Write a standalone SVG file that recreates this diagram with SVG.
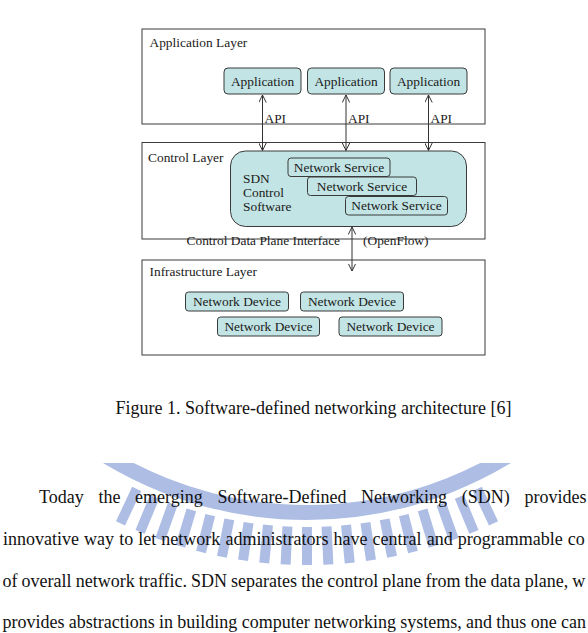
<svg xmlns="http://www.w3.org/2000/svg" width="588" height="633" viewBox="0 0 588 633">
<style>
.layer{fill:#fff;stroke:#3a3a3a;stroke-width:1}
.node{fill:#c2e4e4;stroke:#3a3a3a;stroke-width:1}
.t{font-family:"Liberation Serif","Times New Roman",serif;font-size:13.4px;fill:#1a1a1a}
.c{text-anchor:middle}
.body{font-family:"Liberation Serif","Times New Roman",serif;font-size:18px;fill:#111}
.conn{stroke:#333;stroke-width:1;fill:none;marker-start:url(#ah);marker-end:url(#ah)}
.wm{fill:#adbde4}
</style>
<defs>
<marker id="ah" viewBox="0 0 8 8" refX="7.5" refY="4" markerWidth="8" markerHeight="8" markerUnits="userSpaceOnUse" orient="auto-start-reverse">
<path d="M0,0.3 L7.5,4 L0,7.7" fill="none" stroke="#333" stroke-width="1"/>
</marker>
<clipPath id="wmclip"><rect x="0" y="463" width="588" height="170"/></clipPath>
<rect id="tooth" x="302" y="527" width="10" height="38"/>
</defs>
<rect width="588" height="633" fill="#fff"/>

<g id="watermark" clip-path="url(#wmclip)" class="wm">
<circle cx="307" cy="127" r="385.5" fill="none" stroke="#adbde4" stroke-width="15"/>
<use href="#tooth" transform="rotate(-25.2 307 127)"/>
<use href="#tooth" transform="rotate(-22.4 307 127)"/>
<use href="#tooth" transform="rotate(-19.6 307 127)"/>
<use href="#tooth" transform="rotate(-16.8 307 127)"/>
<use href="#tooth" transform="rotate(-14 307 127)"/>
<use href="#tooth" transform="rotate(-11.2 307 127)"/>
<use href="#tooth" transform="rotate(-8.4 307 127)"/>
<use href="#tooth" transform="rotate(-5.6 307 127)"/>
<use href="#tooth" transform="rotate(-2.8 307 127)"/>
<use href="#tooth"/>
<use href="#tooth" transform="rotate(2.8 307 127)"/>
<use href="#tooth" transform="rotate(5.6 307 127)"/>
<use href="#tooth" transform="rotate(8.4 307 127)"/>
<use href="#tooth" transform="rotate(11.2 307 127)"/>
<use href="#tooth" transform="rotate(14 307 127)"/>
<use href="#tooth" transform="rotate(16.8 307 127)"/>
<use href="#tooth" transform="rotate(19.6 307 127)"/>
<use href="#tooth" transform="rotate(22.4 307 127)"/>
<use href="#tooth" transform="rotate(25.2 307 127)"/>
</g>

<g id="application-layer">
<rect class="layer" x="142" y="29" width="343" height="95"/>
<text class="t" x="149.5" y="46.5">Application Layer</text>
</g>
<g id="control-layer">
<rect class="layer" x="142" y="142.5" width="343" height="96.5"/>
<text class="t" x="148" y="161.5">Control Layer</text>
</g>
<g id="infrastructure-layer">
<rect class="layer" x="142" y="260" width="343" height="95"/>
<text class="t" x="149.5" y="276">Infrastructure Layer</text>
</g>

<g id="app1"><rect class="node" x="224" y="68" width="77" height="26" rx="4"/><text class="t c" x="262.5" y="86">Application</text></g>
<g id="app2"><rect class="node" x="307.5" y="68" width="77" height="26" rx="4"/><text class="t c" x="346" y="86">Application</text></g>
<g id="app3"><rect class="node" x="390" y="68" width="77" height="26" rx="4"/><text class="t c" x="428.5" y="86">Application</text></g>

<g id="sdn-control">
<rect class="node" x="230.5" y="151" width="236" height="75.5" rx="15"/>
<text class="t" x="243" y="182.5">SDN</text>
<text class="t" x="243" y="197">Control</text>
<text class="t" x="243" y="211">Software</text>
</g>
<g id="ns1"><rect class="node" x="288" y="158" width="102" height="18.5" rx="3"/><text class="t c" x="339" y="171.5">Network Service</text></g>
<g id="ns2"><rect class="node" x="307.5" y="177" width="109" height="18.5" rx="3"/><text class="t c" x="362" y="190.5">Network Service</text></g>
<g id="ns3"><rect class="node" x="345.5" y="196.5" width="102" height="18.5" rx="3"/><text class="t c" x="396.5" y="210">Network Service</text></g>

<g id="nd1"><rect class="node" x="185.5" y="292" width="103" height="19" rx="3"/><text class="t c" x="237" y="306">Network Device</text></g>
<g id="nd2"><rect class="node" x="300.5" y="292" width="103" height="19" rx="3"/><text class="t c" x="352" y="306">Network Device</text></g>
<g id="nd3"><rect class="node" x="217.5" y="317" width="102" height="19" rx="3"/><text class="t c" x="268.5" y="331">Network Device</text></g>
<g id="nd4"><rect class="node" x="339" y="317" width="103" height="19" rx="3"/><text class="t c" x="390.5" y="331">Network Device</text></g>

<g id="connectors">
<line class="conn" x1="262.5" y1="95" x2="262.5" y2="150.5"/>
<line class="conn" x1="346" y1="95" x2="346" y2="150.5"/>
<line class="conn" x1="428.5" y1="95" x2="428.5" y2="150.5"/>
<line class="conn" x1="352" y1="227" x2="352" y2="271"/>
<text class="t" x="264.5" y="122.5">API</text>
<text class="t" x="348" y="122.5">API</text>
<text class="t" x="430.5" y="122.5">API</text>
<text class="t" x="186.5" y="245">Control Data Plane Interface</text>
<text class="t" x="363" y="245">(OpenFlow)</text>
</g>

<text class="body" x="313.5" y="414" text-anchor="middle">Figure 1. Software-defined networking architecture [6]</text>

<g id="paragraph" class="body">
<text class="body" x="39" y="503" word-spacing="10.2">Today the emerging Software-Defined Networking (SDN) provides</text>
<text class="body" x="3" y="545" word-spacing="0.6">innovative way to let network administrators have central and programmable co</text>
<text class="body" x="2.5" y="586.5" word-spacing="-0.4">of overall network traffic. SDN separates the control plane from the data plane, w</text>
<text class="body" x="2.5" y="628" word-spacing="-0.2">provides abstractions in building computer networking systems, and thus one can</text>
</g>
</svg>
